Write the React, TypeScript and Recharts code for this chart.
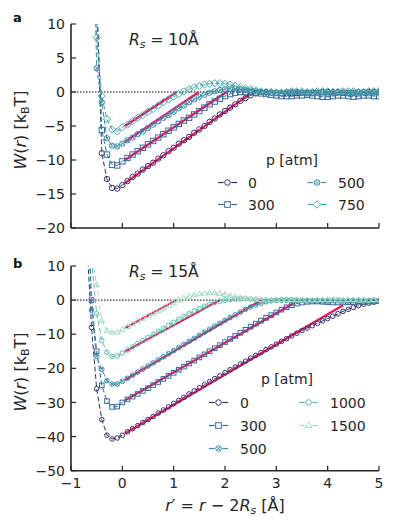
import React from 'react';
import { LineChart, Line, XAxis, YAxis, ReferenceLine } from 'recharts';

// ---------- data ----------
const rValues = [
  -0.7, -0.6, -0.5, -0.4, -0.3, -0.2, -0.1, 0,
  0.1, 0.2, 0.3, 0.4, 0.5, 0.6, 0.7, 0.8, 0.9, 1,
  1.1, 1.2, 1.3, 1.4, 1.5, 1.6, 1.7, 1.8, 1.9, 2,
  2.1, 2.2, 2.3, 2.4, 2.5, 2.6, 2.7, 2.8, 2.9, 3,
  3.1, 3.2, 3.3, 3.4, 3.5, 3.6, 3.7, 3.8, 3.9, 4,
  4.1, 4.2, 4.3, 4.4, 4.5, 4.6, 4.7, 4.8, 4.9, 5,
];

// Panel a: Rs = 10 Å
const topP0 = [null, null, 14, -9, -12.8, -14.1, -14.2, -13.7,
  -13.1, -12.5, -12.0, -11.4, -10.9, -10.4, -9.8, -9.3, -8.7, -8.2,
  -7.6, -7.1, -6.6, -6.0, -5.5, -5.0, -4.4, -3.9, -3.3, -2.8,
  -2.3, -1.8, -1.3, -0.9, -0.5, -0.2, 0.0, 0.0, -0.1, -0.1,
  -0.2, -0.2, -0.2, -0.2, -0.1, -0.1, -0.1, -0.1, 0.0, 0.0,
  0.0, 0.0, -0.1, -0.1, -0.1, 0.0, 0.0, 0.0, 0.0, 0.0];
const topP300 = [null, null, 14, -5.6, -9.2, -10.7, -10.8, -10.2,
  -9.7, -9.2, -8.7, -8.2, -7.7, -7.2, -6.7, -6.2, -5.7, -5.2,
  -4.7, -4.2, -3.8, -3.3, -2.8, -2.3, -1.8, -1.4, -1.0, -0.6,
  -0.3, -0.1, 0.0, 0.0, 0.0, -0.1, -0.2, -0.3, -0.4, -0.5,
  -0.6, -0.6, -0.6, -0.5, -0.5, -0.4, -0.5, -0.6, -0.7, -0.7,
  -0.6, -0.5, -0.5, -0.6, -0.7, -0.6, -0.5, -0.5, -0.6, -0.6];
const topP500 = [null, 40, 3.5, -1.5, -6.8, -7.9, -8.0, -7.6,
  -7.1, -6.7, -6.2, -5.8, -5.3, -4.8, -4.3, -3.8, -3.4, -2.9,
  -2.4, -2.0, -1.5, -1.1, -0.7, -0.4, -0.1, 0.1, 0.3, 0.4,
  0.5, 0.5, 0.4, 0.3, 0.2, 0.1, 0.0, -0.1, -0.1, -0.1,
  -0.1, 0.0, 0.0, 0.0, -0.1, -0.2, -0.2, -0.1, -0.1, -0.2,
  -0.2, -0.1, -0.1, -0.2, -0.2, -0.1, -0.1, -0.2, -0.1, -0.1];
const topP750 = [null, 40, 8, -0.6, -4.0, -5.5, -5.8, -5.2,
  -4.8, -4.3, -3.8, -3.4, -2.9, -2.5, -2.0, -1.5, -1.1, -0.7,
  -0.3, 0.1, 0.4, 0.7, 0.9, 1.1, 1.2, 1.3, 1.3, 1.2,
  1.1, 0.9, 0.7, 0.5, 0.4, 0.2, 0.1, 0.0, 0.0, -0.1,
  -0.1, 0.0, 0.1, 0.1, 0.1, 0.0, 0.0, 0.1, 0.1, 0.1,
  0.0, 0.0, 0.1, 0.1, 0.1, 0.0, 0.0, 0.1, 0.1, 0.1];

// Panel b: Rs = 15 Å
const botP0 = [20, -8, -26, -35, -39.6, -40.7, -40.4, -39.6,
  -38.6, -37.7, -36.8, -35.9, -35.0, -34.1, -33.1, -32.2, -31.3, -30.3,
  -29.4, -28.5, -27.5, -26.6, -25.7, -24.8, -23.9, -23.0, -22.2, -21.3,
  -20.4, -19.6, -18.7, -17.9, -17.0, -16.2, -15.4, -14.5, -13.7, -12.9,
  -12.1, -11.3, -10.5, -9.7, -8.9, -8.2, -7.5, -6.8, -6.1, -5.4,
  -4.7, -4.0, -3.3, -2.7, -2.1, -1.6, -1.2, -0.9, -0.6, -0.4];
const botP300 = [40, 0, -15, -25, -29.6, -31.3, -31.2, -30.0,
  -29.1, -28.3, -27.5, -26.6, -25.8, -24.9, -24.0, -23.1, -22.2, -21.3,
  -20.4, -19.5, -18.6, -17.7, -16.8, -15.9, -15.0, -14.1, -13.2, -12.3,
  -11.4, -10.5, -9.6, -8.7, -7.8, -6.9, -6.0, -5.2, -4.4, -3.6,
  -2.8, -2.1, -1.5, -1.0, -0.7, -0.5, -0.4, -0.4, -0.5, -0.6,
  -0.7, -0.7, -0.7, -0.6, -0.6, -0.5, -0.5, -0.4, -0.4, -0.3];
const botP500 = [40, -3, -16.5, -20.3, -23.6, -24.6, -24.6, -23.8,
  -22.9, -22.0, -21.1, -20.2, -19.3, -18.4, -17.5, -16.6, -15.7, -14.8,
  -13.9, -13.0, -12.1, -11.2, -10.3, -9.4, -8.5, -7.6, -6.8, -5.9,
  -5.1, -4.3, -3.5, -2.7, -2.0, -1.4, -0.9, -0.5, -0.2, 0.0,
  0.1, 0.1, 0.1, 0.0, -0.1, -0.2, -0.2, -0.2, -0.3, -0.3,
  -0.2, -0.2, -0.3, -0.3, -0.2, -0.2, -0.2, -0.3, -0.2, -0.2];
const botP1000 = [40, 12, -4, -11.8, -15.3, -16.5, -16.4, -15.5,
  -14.6, -13.7, -12.8, -11.9, -11.0, -10.1, -9.2, -8.3, -7.4, -6.5,
  -5.6, -4.8, -4.0, -3.2, -2.5, -1.8, -1.2, -0.7, -0.3, 0.0,
  0.2, 0.3, 0.4, 0.4, 0.3, 0.2, 0.1, 0.0, 0.0, -0.1,
  -0.1, -0.1, 0.0, 0.0, 0.0, 0.0, -0.1, -0.1, 0.0, 0.0,
  0.0, 0.0, -0.1, 0.0, 0.0, 0.0, 0.0, -0.1, 0.0, 0.0];
const botP1500 = [40, 14, 4.5, -6.0, -8.9, -9.5, -9.4, -8.6,
  -7.8, -7.0, -6.2, -5.4, -4.6, -3.9, -3.2, -2.4, -1.6, -0.8,
  0.0, 0.6, 1.1, 1.5, 1.8, 2.0, 2.1, 2.1, 1.9, 1.6,
  1.3, 1.0, 0.7, 0.5, 0.3, 0.2, 0.1, 0.0, 0.0, 0.0,
  0.1, 0.1, 0.1, 0.1, 0.0, 0.0, 0.0, 0.1, 0.1, 0.1,
  0.0, 0.0, 0.0, 0.1, 0.1, 0.0, 0.0, 0.0, 0.1, 0.1];

// linear fits (start r, end r, start W, end W)
const topFitR0 = [0.05, 0.05, 0.05, 0.05];
const topFitR1 = [2.48, 2.03, 1.49, 1.06];
const topFitW0 = [-13.4, -10.0, -7.35, -5.0];
const topFitW1 = [-0.3, 0, 0, 0];
const botFitR0 = [0.05, 0.05, 0.05, 0.05, 0.05];
const botFitR1 = [4.3, 3.33, 2.71, 1.9, 1.05];
const botFitW0 = [-39.1, -29.4, -23.4, -15.1, -8.2];
const botFitW1 = [-1.5, -1.0, 0, 0, 0];

const topPressures = ['0', '300', '500', '750'];
const botPressures = ['0', '300', '500', '1000', '1500'];
const xTicks = [-1, 0, 1, 2, 3, 4, 5];
const topYTicks = [-20, -15, -10, -5, 0, 5, 10];
const botYTicks = [-50, -40, -30, -20, -10, 0, 10];

// ---------- styles ----------
const FONT = '"DejaVu Sans", sans-serif';
const INK = '#262626';
const FIT = '#e8175d';
const AX_X = 71;

type Shape = 'circle' | 'square' | 'otimes' | 'diamond' | 'triangle';
interface SeriesStyle { key: string; color: string; shape: Shape; }

const topStyles: SeriesStyle[] = [
  { key: 'p0', color: '#3d2f6b', shape: 'circle' },
  { key: 'p300', color: '#3b6a9c', shape: 'square' },
  { key: 'p500', color: '#3c8ea6', shape: 'otimes' },
  { key: 'p750', color: '#46a9ad', shape: 'diamond' },
];
const botStyles: SeriesStyle[] = [
  { key: 'p0', color: '#3d2f6b', shape: 'circle' },
  { key: 'p300', color: '#3b6a9c', shape: 'square' },
  { key: 'p500', color: '#3c8ea6', shape: 'otimes' },
  { key: 'p1000', color: '#5cbfb0', shape: 'circle' },
  { key: 'p1500', color: '#a3dcc3', shape: 'triangle' },
];

const topRows = rValues.map((r, i) => ({ r, p0: topP0[i], p300: topP300[i], p500: topP500[i], p750: topP750[i] }));
const botRows = rValues.map((r, i) => ({ r, p0: botP0[i], p300: botP300[i], p500: botP500[i], p1000: botP1000[i], p1500: botP1500[i] }));

function MarkerShape({ cx, cy, shape, color, s }: { cx: number; cy: number; shape: Shape; color: string; s: number }) {
  const common = { fill: 'none', stroke: color, strokeWidth: 1 };
  switch (shape) {
    case 'circle':
      return <circle cx={cx} cy={cy} r={s} {...common} />;
    case 'square':
      return <rect x={cx - s} y={cy - s} width={2 * s} height={2 * s} {...common} />;
    case 'diamond': {
      const d = s * 1.35;
      return <polygon points={`${cx},${cy - d} ${cx + d},${cy} ${cx},${cy + d} ${cx - d},${cy}`} {...common} />;
    }
    case 'triangle': {
      const d = s * 1.3;
      return <polygon points={`${cx},${cy - d} ${cx + d * 0.95},${cy + d * 0.6} ${cx - d * 0.95},${cy + d * 0.6}`} {...common} />;
    }
    case 'otimes': {
      const k = s * 0.7;
      return (
        <g>
          <circle cx={cx} cy={cy} r={s} {...common} />
          <line x1={cx - k} y1={cy - k} x2={cx + k} y2={cy + k} stroke={color} strokeWidth={0.9} />
          <line x1={cx - k} y1={cy + k} x2={cx + k} y2={cy - k} stroke={color} strokeWidth={0.9} />
        </g>
      );
    }
  }
  return null;
}

const makeDot = (shape: Shape, color: string, s: number) => (props: any) => {
  const { cx, cy, index } = props;
  if (cx == null || cy == null || !isFinite(cx) || !isFinite(cy)) return <g key={`d${index}`} />;
  return <g key={`d${index}`}><MarkerShape cx={cx} cy={cy} shape={shape} color={color} s={s} /></g>;
};

const fmt = (v: number) => (v < 0 ? '\u2212' + Math.abs(v) : String(v));

const makeYTick = () => (props: any) => {
  const { y, payload } = props;
  return (
    <g>
      <line x1={AX_X} x2={AX_X + 5} y1={y} y2={y} stroke={INK} strokeWidth={1.2} />
      <text x={AX_X - 6} y={y} dy="0.36em" textAnchor="end" fontFamily={FONT} fontSize={14} fill={INK}>{fmt(payload.value)}</text>
    </g>
  );
};

const makeXTick = (axisY: number, labels: boolean) => (props: any) => {
  const { x, payload } = props;
  return (
    <g>
      <line x1={x} x2={x} y1={axisY} y2={axisY - 5} stroke={INK} strokeWidth={1.2} />
      {labels && (
        <text x={x} y={axisY + 17.5} textAnchor="middle" fontFamily={FONT} fontSize={14} fill={INK}>{fmt(payload.value)}</text>
      )}
    </g>
  );
};

function Panel({ rows, styles, height, plotTop, plotBottom, yDomain, yTicks, fitR0, fitR1, fitW0, fitW1, xLabels, markerSize }: any) {
  const xAxisH = 10;
  const yAxisW = 40;
  const margin = { top: plotTop, right: 17, bottom: height - plotBottom - xAxisH, left: AX_X - yAxisW };
  return (
    <LineChart width={396} height={height} data={rows} margin={margin}>
      <XAxis
        type="number" dataKey="r" domain={[-1, 5]} ticks={xTicks} interval={0}
        allowDataOverflow height={xAxisH}
        axisLine={{ stroke: INK, strokeWidth: 1.6 }} tickLine={false}
        tick={makeXTick(plotBottom, xLabels)}
      />
      <YAxis
        type="number" domain={yDomain} ticks={yTicks} interval={0}
        allowDataOverflow width={yAxisW}
        axisLine={{ stroke: INK, strokeWidth: 1.6 }} tickLine={false}
        tick={makeYTick()}
      />
      <ReferenceLine y={0} stroke="#000" strokeDasharray="1.5 1.5" strokeWidth={1} />
      {styles.map((st: SeriesStyle) => (
        <Line
          key={st.key} dataKey={st.key} stroke={st.color} strokeWidth={1}
          strokeDasharray="5 2.5" dot={makeDot(st.shape, st.color, markerSize)}
          activeDot={false} isAnimationActive={false} connectNulls={false}
        />
      ))}
      {fitR0.map((r0: number, i: number) => (
        <Line
          key={`fit${i}`}
          data={[{ r: r0, fit: fitW0[i] }, { r: fitR1[i], fit: fitW1[i] }]}
          dataKey="fit" stroke={FIT} strokeWidth={2.2} dot={false} activeDot={false}
          isAnimationActive={false}
        />
      ))}
    </LineChart>
  );
}

function LegendGlyph({ cx, cy, shape, color, s }: { cx: number; cy: number; shape: Shape; color: string; s: number }) {
  return (
    <g>
      <line x1={cx - 9.5} x2={cx - s - 1} y1={cy} y2={cy} stroke={color} strokeWidth={1.2} />
      <line x1={cx + s + 1} x2={cx + 9.5} y1={cy} y2={cy} stroke={color} strokeWidth={1.2} />
      <MarkerShape cx={cx} cy={cy} shape={shape} color={color} s={s} />
    </g>
  );
}

function Overlay() {
  const txt = { fontFamily: FONT, fill: INK } as const;
  const topLegend = [
    { i: 0, gx: 227.5, cy: 182.5, tx: 248, ty: 188 },
    { i: 1, gx: 227.5, cy: 204.5, tx: 248, ty: 210 },
    { i: 2, gx: 317, cy: 182.5, tx: 338, ty: 188 },
    { i: 3, gx: 317, cy: 204.5, tx: 338, ty: 210 },
  ];
  const botLegend = [
    { i: 0, gx: 218.5, cy: 402.5, tx: 240, ty: 408 },
    { i: 1, gx: 218.5, cy: 425.5, tx: 240, ty: 431 },
    { i: 2, gx: 218.5, cy: 448.5, tx: 240, ty: 454 },
    { i: 3, gx: 308.5, cy: 402.5, tx: 330, ty: 408 },
    { i: 4, gx: 308.5, cy: 425.5, tx: 330, ty: 431 },
  ];
  return (
    <svg width={396} height={528} style={{ position: 'absolute', left: 0, top: 0, pointerEvents: 'none' }}>
      <text x={13} y={22} {...txt} fontSize={13} fontWeight="bold" fill="#111">a</text>
      <text x={13} y={268} {...txt} fontSize={13} fontWeight="bold" fill="#111">b</text>

      <text x={129} y={45} {...txt} fontSize={15.5}>
        <tspan fontStyle="italic">R</tspan>
        <tspan fontStyle="italic" fontSize={11} dy={3}>s</tspan>
        <tspan dy={-3}>{' = 10\u00c5'}</tspan>
      </text>
      <text x={129} y={277} {...txt} fontSize={15.5}>
        <tspan fontStyle="italic">R</tspan>
        <tspan fontStyle="italic" fontSize={11} dy={3}>s</tspan>
        <tspan dy={-3}>{' = 15\u00c5'}</tspan>
      </text>

      {[130, 372].map((cy) => (
        <text key={cy} transform={`translate(26,${cy}) rotate(-90)`} textAnchor="middle" {...txt} fontSize={16}>
          <tspan fontStyle="italic">W</tspan>
          <tspan>(</tspan>
          <tspan fontStyle="italic">r</tspan>
          <tspan>{') [k'}</tspan>
          <tspan fontSize={11} dy={3}>B</tspan>
          <tspan dy={-3}>T]</tspan>
        </text>
      ))}

      <text x={225} y={511} textAnchor="middle" {...txt} fontSize={16}>
        <tspan fontStyle="italic">r</tspan>
        <tspan>{'\u2032 = '}</tspan>
        <tspan fontStyle="italic">r</tspan>
        <tspan>{' \u2212 2'}</tspan>
        <tspan fontStyle="italic">R</tspan>
        <tspan fontStyle="italic" fontSize={11} dy={3}>s</tspan>
        <tspan dy={-3}>{' [\u00c5]'}</tspan>
      </text>

      <text x={292} y={165} textAnchor="middle" {...txt} fontSize={14}>p [atm]</text>
      {topLegend.map((e) => (
        <g key={`tl${e.i}`}>
          <LegendGlyph cx={e.gx} cy={e.cy} shape={topStyles[e.i].shape} color={topStyles[e.i].color} s={2.8} />
          <text x={e.tx} y={e.ty} {...txt} fontSize={14}>{topPressures[e.i]}</text>
        </g>
      ))}

      <text x={287} y={384} textAnchor="middle" {...txt} fontSize={14}>p [atm]</text>
      {botLegend.map((e) => (
        <g key={`bl${e.i}`}>
          <LegendGlyph cx={e.gx} cy={e.cy} shape={botStyles[e.i].shape} color={botStyles[e.i].color} s={2.8} />
          <text x={e.tx} y={e.ty} {...txt} fontSize={14}>{botPressures[e.i]}</text>
        </g>
      ))}
    </svg>
  );
}

export default function App() {
  return (
    <div style={{ position: 'absolute', left: 0, top: 0, width: 396, height: 528, background: '#fff' }}>
      <div style={{ position: 'absolute', left: 0, top: 0 }}>
        <Panel
          rows={topRows} styles={topStyles} height={240}
          plotTop={24} plotBottom={228}
          yDomain={[-20, 10]} yTicks={topYTicks}
          fitR0={topFitR0} fitR1={topFitR1} fitW0={topFitW0} fitW1={topFitW1}
          xLabels={false} markerSize={2.7}
        />
      </div>
      <div style={{ position: 'absolute', left: 0, top: 240 }}>
        <Panel
          rows={botRows} styles={botStyles} height={288}
          plotTop={26} plotBottom={230.7}
          yDomain={[-50, 10]} yTicks={botYTicks}
          fitR0={botFitR0} fitR1={botFitR1} fitW0={botFitW0} fitW1={botFitW1}
          xLabels={true} markerSize={2.3}
        />
      </div>
      <Overlay />
    </div>
  );
}
